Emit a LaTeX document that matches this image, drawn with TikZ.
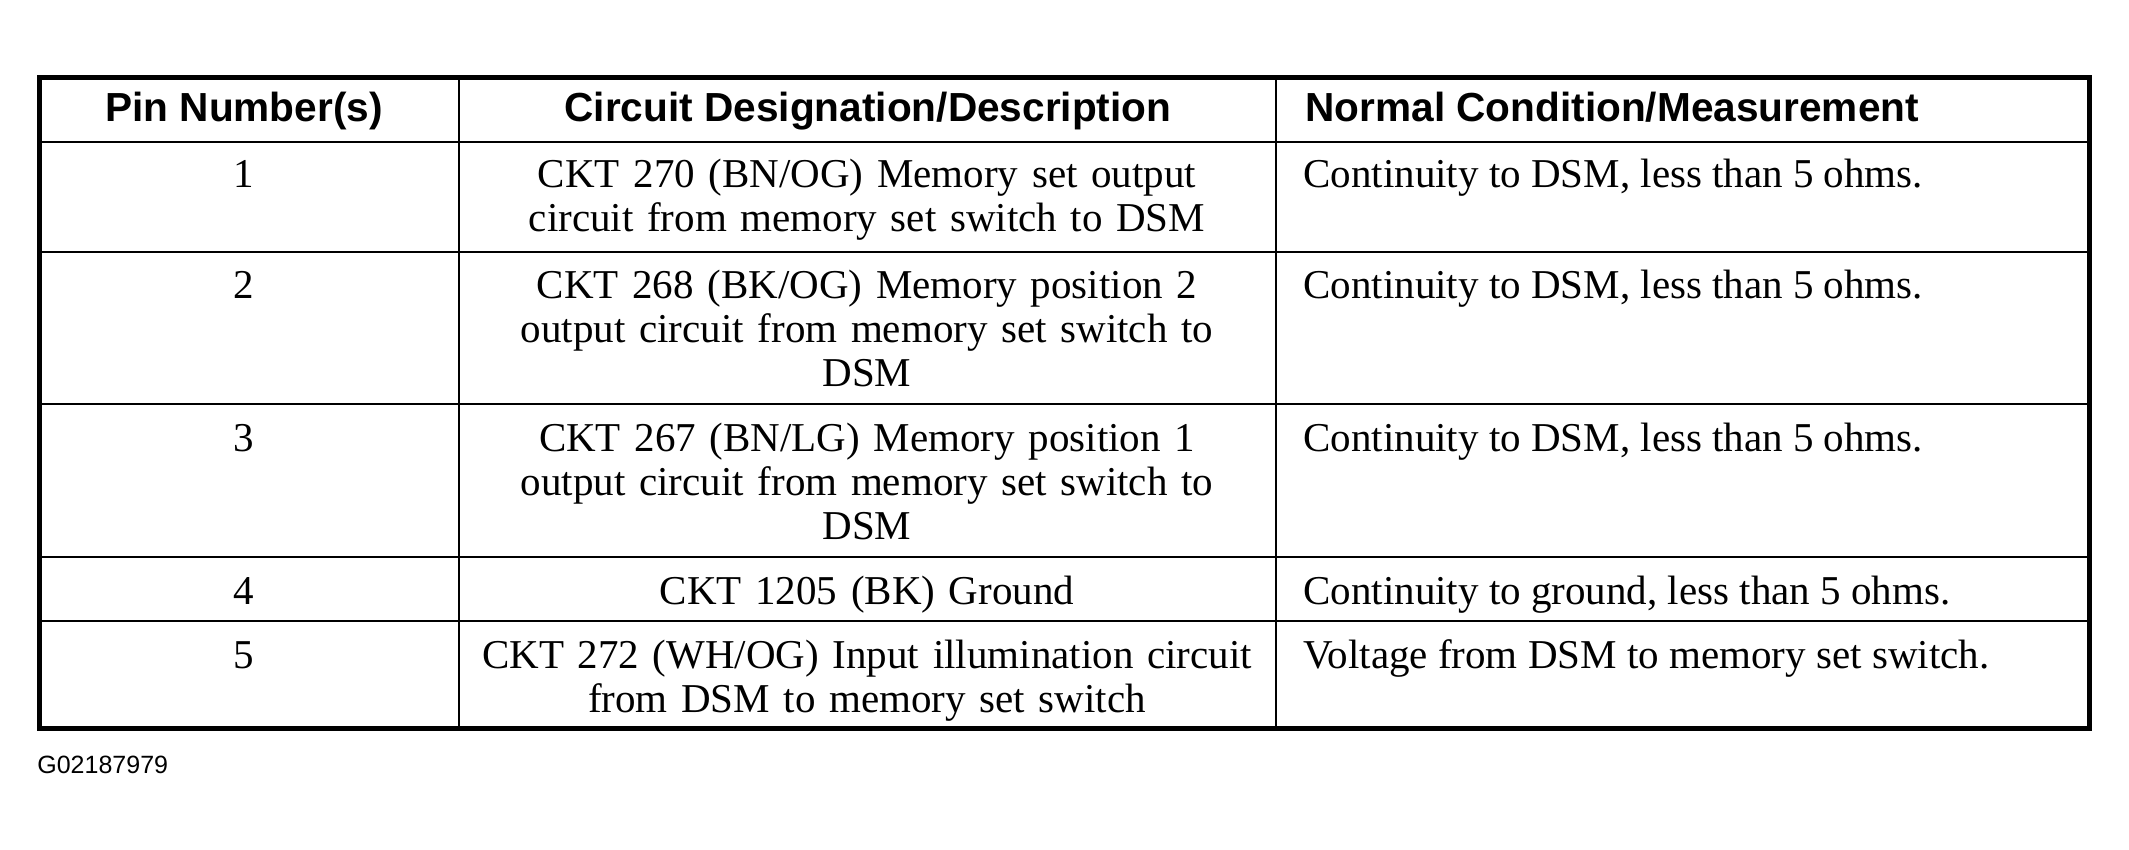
\documentclass[tikz,border=0pt]{standalone}
\usepackage{fontspec}
\setmainfont{Liberation Serif}
\newfontfamily\headfont{Liberation Sans}
\usetikzlibrary{positioning}

\begin{document}
\begin{tikzpicture}[x=0.5pt, y=-0.5pt,
  every node/.style={inner sep=0pt},
  bodyfont/.style={font=\fontsize{20.5}{22}\selectfont},
  headcell/.style={anchor=base, font=\headfont\bfseries\fontsize{20.3}{22}\selectfont},
  pincell/.style={anchor=base, bodyfont},
  desccell/.style={anchor=base, align=center, text width=404pt, bodyfont},
  condcell/.style={anchor=base west, bodyfont}]
\useasboundingbox (0,0) rectangle (2129,850);

% --- Table rules ---
\foreach \y in {142,252,404,557,621}{
  \draw[line width=0.9pt] (39,\y) -- (2089,\y);
}
\foreach \x in {459,1276}{
  \draw[line width=0.9pt] (\x,78) -- (\x,728);
}
\draw[line width=2.5pt] (39,78) rectangle (2089,728);

% --- Header ---
\node[headcell] (headpin) at (244,122) {Pin Number(s)};
\node[headcell] (headdesc) at (868,122) {Circuit Designation/Description};
\node[headcell, anchor=base west] (headcond) at (1305,122) {Normal Condition/Measurement};

% --- Rows ---
\foreach \i/\y/\desc/\cond in {
  1/188/{CKT 270 (BN/OG) Memory set output\\circuit from memory set switch to DSM}/{Continuity to DSM, less than 5 ohms.},
  2/298/{CKT 268 (BK/OG) Memory position 2\\output circuit from memory set switch to\\DSM}/{Continuity to DSM, less than 5 ohms.},
  3/451/{CKT 267 (BN/LG) Memory position 1\\output circuit from memory set switch to\\DSM}/{Continuity to DSM, less than 5 ohms.},
  4/604/{CKT 1205 (BK) Ground}/{Continuity to ground, less than 5 ohms.},
  5/668/{CKT 272 (WH/OG) Input illumination circuit\\from DSM to memory set switch}/{Voltage from DSM to memory set switch.}}{
  \node[pincell] (pin\i) at (244,\y) {\i};
  \node[desccell] (desc\i) at (867,\y) {\desc};
  \node[condcell] (cond\i) at (1303,\y) {\cond};
}

% --- Figure id ---
\node[anchor=base west, font=\headfont\fontsize{12.5}{14}\selectfont] (figid) at (37,773) {G02187979};
\end{tikzpicture}
\end{document}
